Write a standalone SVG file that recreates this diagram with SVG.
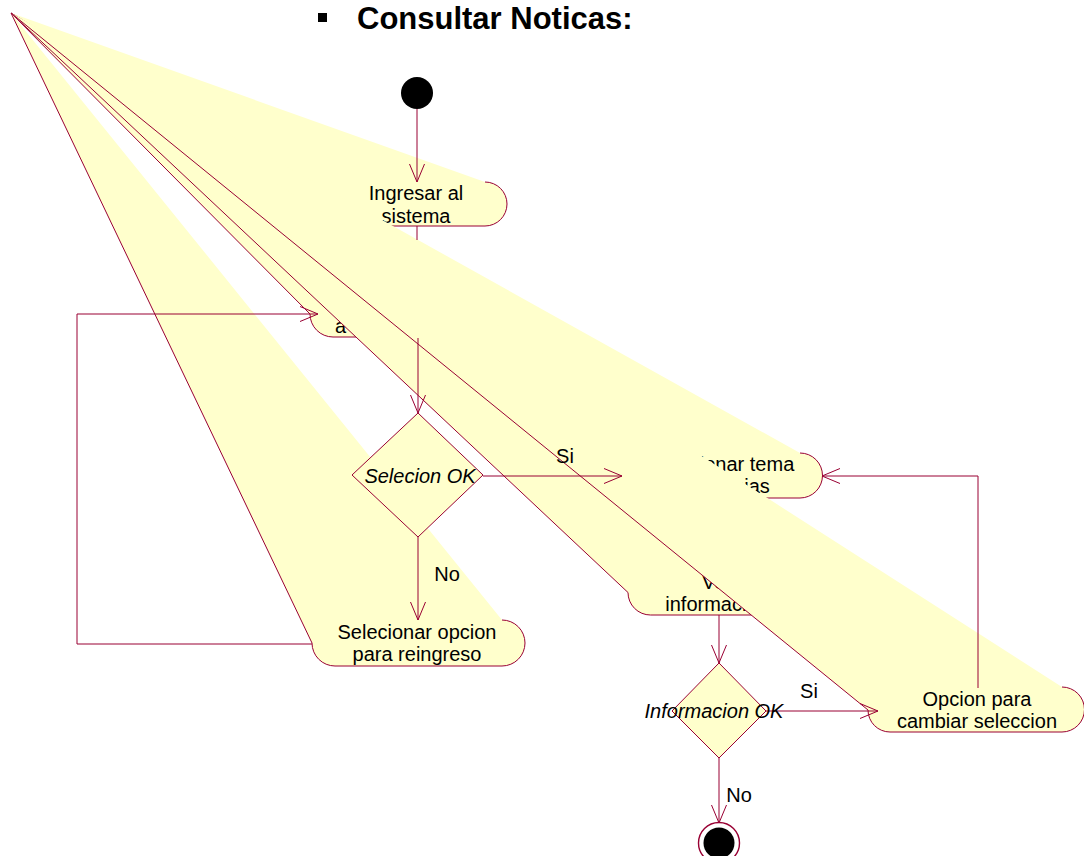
<svg xmlns="http://www.w3.org/2000/svg" width="1084" height="856" viewBox="0 0 1084 856">
  <style>
    .bg { fill: #ffffff; }
    .act { fill: #ffffcc; stroke: none; }
    .edge { fill: none; stroke: #990033; stroke-width: 1; }
    .dec { fill: #ffffcc; stroke: #990033; stroke-width: 1; }
    .txt { font-family: "Liberation Sans", Arial, sans-serif; font-size: 20px; fill: #000000; }
    .mid { text-anchor: middle; }
    .it { font-style: italic; }
    .conn { fill: none; stroke: #990033; stroke-width: 1; }
    .title { font-family: "Liberation Sans", Arial, sans-serif; font-size: 31px; font-weight: bold; fill: #000000; }
  </style>
  <defs>
    <marker id="arrow" markerUnits="userSpaceOnUse" markerWidth="20" markerHeight="18" viewBox="0 0 20 18" refX="18" refY="8" orient="auto" overflow="visible">
      <path d="M0,0.5 L18,8 L0,15.5" fill="none" stroke="#990033" stroke-width="1"/>
    </marker>
  </defs>

  <rect class="bg" x="0" y="0" width="1084" height="856"/>

  <!-- activity states (their left corners collapse onto the point 11,13) -->
  <g id="node-ingresar">
    <path class="act" d="M11,13 L485,182 A22,22 0 0 1 485,226 L347,226 A22,22 0 0 1 325,204 Z"/>
    <path class="edge" d="M11,13 L325,204 A22,22 0 0 0 347,226 L485,226 A22,22 0 0 0 485,182"/>
    <text class="txt mid" x="416" y="200">Ingresar al</text>
    <text class="txt mid" x="416" y="223">sistema</text>
  </g>

  <g id="node-a">
    <path class="act" d="M11,13 L497,291 A23,23 0 0 1 497,337 L333,337 A23,23 0 0 1 310,314 Z"/>
    <path class="edge" d="M11,13 L310,314 A23,23 0 0 0 333,337 L497,337 A23,23 0 0 0 497,291"/>
    <text class="txt" x="335" y="333">a</text>
  </g>

  <g id="node-tema">
    <path class="act" d="M11,13 L800,453 A22.5,22.5 0 0 1 800,498 L644.5,498 A22.5,22.5 0 0 1 622,475.5 Z"/>
    <path class="edge" d="M11,13 L622,475.5 A22.5,22.5 0 0 0 644.5,498 L800,498 A22.5,22.5 0 0 0 800,453"/>
    <text class="txt mid" x="722" y="471">Selecionar tema</text>
    <text class="txt mid" x="722" y="493">de noticias</text>
  </g>

  <g id="node-ver">
    <path class="act" d="M11,13 L783.5,570 A22.5,22.5 0 0 1 783.5,615 L650.5,615 A22.5,22.5 0 0 1 628,592.5 Z"/>
    <path class="edge" d="M11,13 L628,592.5 A22.5,22.5 0 0 0 650.5,615 L783.5,615 A22.5,22.5 0 0 0 783.5,570"/>
    <text class="txt mid" x="717" y="589">Ver</text>
    <text class="txt mid" x="717" y="611">informacion</text>
  </g>

  <g id="node-reingreso">
    <path class="act" d="M11,13 L502,620 A23,23 0 0 1 502,666 L335,666 A23,23 0 0 1 312,643 Z"/>
    <path class="edge" d="M11,13 L312,643 A23,23 0 0 0 335,666 L502,666 A23,23 0 0 0 502,620"/>
    <text class="txt mid" x="417" y="639">Selecionar opcion</text>
    <text class="txt mid" x="417" y="661">para reingreso</text>
  </g>

  <g id="node-cambiar">
    <path class="act" d="M11,13 L1062,687 A22.5,22.5 0 0 1 1062,732 L890,732 A22,22 0 0 1 868,710 Z"/>
    <path class="edge" d="M11,13 L868,710 A22,22 0 0 0 890,732 L1062,732 A22.5,22.5 0 0 0 1062,687"/>
    <text class="txt mid" x="977" y="706">Opcion para</text>
    <text class="txt mid" x="977" y="728">cambiar seleccion</text>
  </g>

  <!-- transitions -->
  <g id="connectors">
    <path class="conn" d="M417,109 L417,182" marker-end="url(#arrow)"/>
    <path class="conn" d="M417,226 L417,240"/>
    <path class="conn" d="M418,338 L418,413" marker-end="url(#arrow)"/>
    <path class="conn" d="M483,476 L622,476" marker-end="url(#arrow)"/>
    <text class="txt mid" x="565" y="463">Si</text>
    <path class="conn" d="M418,537 L418,620" marker-end="url(#arrow)"/>
    <text class="txt mid" x="447" y="581">No</text>
    <path class="conn" d="M312,644 L77,644 L77,314 L318,314" marker-end="url(#arrow)"/>
    <path class="conn" d="M719,615 L719,663" marker-end="url(#arrow)"/>
    <path class="conn" d="M766,711 L878,711" marker-end="url(#arrow)"/>
    <text class="txt mid" x="809" y="698">Si</text>
    <path class="conn" d="M719,758 L719,823" marker-end="url(#arrow)"/>
    <text class="txt mid" x="739" y="802">No</text>
    <path class="conn" d="M978,688 L978,476 L822,476" marker-end="url(#arrow)"/>
  </g>

  <!-- decisions, start and end -->
  <g id="node-selecion-ok">
    <polygon class="dec" points="418,413 483,475 418,537 352,475"/>
    <text class="txt mid it" x="420" y="483">Selecion OK</text>
  </g>

  <g id="node-informacion-ok">
    <polygon class="dec" points="719,663 766,711 719,758 672,711"/>
    <text class="txt mid it" x="714" y="718">Informacion OK</text>
  </g>

  <g id="node-start">
    <circle cx="417" cy="93" r="16" fill="#000000"/>
  </g>

  <g id="node-end">
    <circle cx="719" cy="843" r="20.5" fill="#ffffff" stroke="#990033" stroke-width="1.4"/>
    <circle cx="719" cy="843" r="15.5" fill="#000000"/>
  </g>

  <!-- heading -->
  <g id="heading">
    <rect x="318" y="13" width="9" height="9" fill="#000000"/>
    <text class="title" x="357" y="29">Consultar Noticas:</text>
  </g>
</svg>
